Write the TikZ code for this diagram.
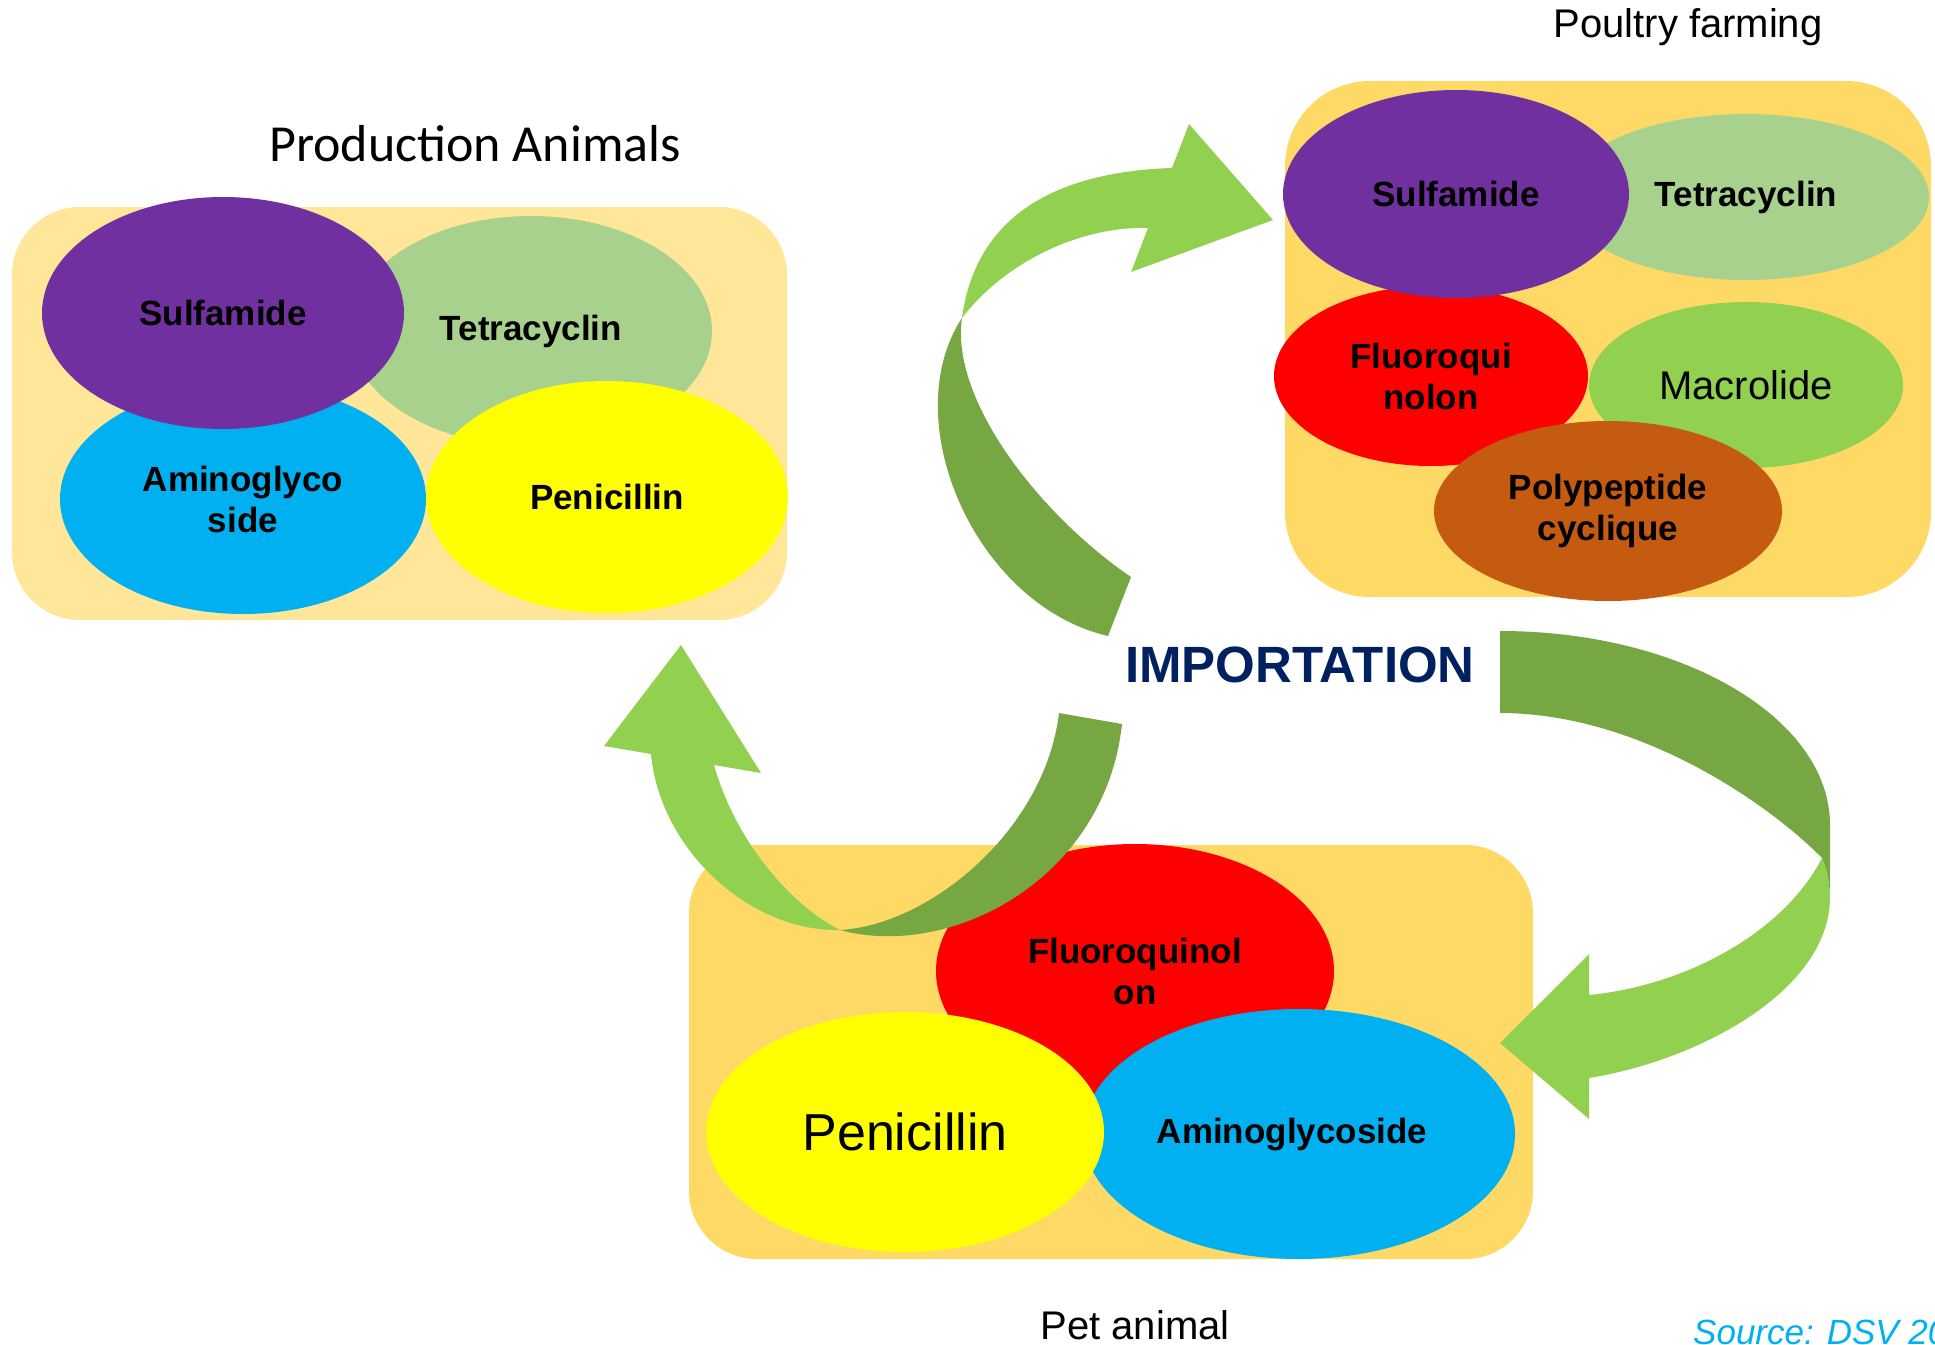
\documentclass[tikz,border=0pt]{standalone}
\usepackage{fontspec}
\setmainfont{Liberation Sans}
\newfontfamily\calib{Carlito}
\usetikzlibrary{shapes.geometric}
\definecolor{boxlight}{HTML}{FFE699}
\definecolor{boxgold}{HTML}{FFD966}
\definecolor{cpurple}{HTML}{7030A0}
\definecolor{cteal}{HTML}{A9D18E}
\definecolor{cblue}{HTML}{00B0F0}
\definecolor{cyel}{HTML}{FFFF00}
\definecolor{cred}{HTML}{FF0000}
\definecolor{cgreen}{HTML}{92D050}
\definecolor{corange}{HTML}{C55A11}
\definecolor{cdark}{HTML}{76A742}
\definecolor{cnavy}{HTML}{002060}
\tikzset{
  panel/.style={fill=#1, draw=none, inner sep=0pt},
  blob/.style={ellipse, fill=#1, draw=none, inner sep=0pt, align=center,
    font=\bfseries\fontsize{35}{41}\selectfont},
  plain/.style={font=\fontsize{40}{46}\selectfont, inner sep=0pt},
  lightarr/.style={fill=cgreen, draw=none},
  darkarr/.style={fill=cdark, draw=none}
}
\begin{document}
\begin{tikzpicture}[x=1pt,y=-1pt]
\useasboundingbox (0,0) rectangle (1935,1344);
\begin{scope}
\clip (0,0) rectangle (1935,1344);
% ---------- panels ----------
\node[panel=boxlight, rounded corners=68pt, minimum width=775pt, minimum height=413pt] (boxL) at (399.5,413.5) {};
\node[panel=boxgold, rounded corners=85pt, minimum width=646pt, minimum height=516pt] (boxR) at (1608,339) {};
\node[panel=boxgold, rounded corners=68pt, minimum width=844pt, minimum height=414pt] (boxB) at (1111,1052) {};
% ---------- titles ----------
\node[font=\calib\fontsize{52}{60}\selectfont, inner sep=0pt] (tL) at (475,144) {Production Animals};
\node[plain] (tR) at (1688,27) {Poultry farming};
\node[plain] (tB) at (1135,1325) {Pet animal};
% ---------- left panel ----------
\node[blob=cteal, minimum width=362pt, minimum height=230pt] (lTet) at (531,331) {Tetracyclin};
\node[blob=cblue, minimum width=366pt, minimum height=230pt] (lAmi) at (243,499) {Aminoglyco\\side};
\node[blob=cyel, minimum width=362pt, minimum height=232pt] (lPen) at (607,497) {Penicillin};
\node[blob=cpurple, minimum width=362pt, minimum height=232pt] (lSul) at (223,313) {Sulfamide};
% ---------- right panel ----------
\node[blob=cteal, minimum width=366pt, minimum height=166pt] (rTet) at (1746,197) {Tetracyclin};
\node[blob=cred, minimum width=314pt, minimum height=180pt] (rFlu) at (1431,376) {Fluoroqui\\nolon};
\node[blob=cgreen, minimum width=314pt, minimum height=166pt, font=\fontsize{40}{46}\selectfont] (rMac) at (1746,385) {Macrolide};
\node[blob=corange, minimum width=348pt, minimum height=180pt] (rPol) at (1608,511) {Polypeptide\\cyclique};
\node[blob=cpurple, minimum width=346pt, minimum height=208pt] (rSul) at (1456,194) {Sulfamide};
% ---------- bottom panel ----------
\node[blob=cred, minimum width=398pt, minimum height=254pt] (bFlu) at (1135,971) {Fluoroquinol\\on};
\node[blob=cblue, minimum width=432pt, minimum height=250pt] (bAmi) at (1299,1134) {};
\node[font=\bfseries\fontsize{35}{41}\selectfont, inner sep=0pt] (bAmiT) at (1292,1135) {Aminoglycoside};
\node[blob=cyel, minimum width=398pt, minimum height=240pt, font=\fontsize{52}{60}\selectfont] (bPen) at (905,1132) {Penicillin};
% ---------- IMPORTATION ----------
\node[font=\bfseries\fontsize{51}{58}\selectfont, text=cnavy, inner sep=0pt] (imp) at (1300,665) {IMPORTATION};
% ---------- arrow 1 (to poultry) ----------
\fill[darkarr] (1108,636) .. controls (975,605) and (895,420) .. (962,318)
  .. controls (950,400) and (1040,515) .. (1131,577) -- cycle;
\fill[lightarr] (962,318) .. controls (975,220) and (1050,172) .. (1172,168)
  -- (1189,124) -- (1273,220) -- (1131,272) -- (1148,228)
  .. controls (1080,226) and (1005,262) .. (962,318) -- cycle;
% ---------- arrow 2 (to pet) ----------
\fill[darkarr] (1500,631) .. controls (1682,631) and (1830,718) .. (1830,825)
  -- (1830,897) .. controls (1829,880) and (1826,868) .. (1822,858)
  .. controls (1770,805) and (1640,713) .. (1500,713) -- cycle;
\fill[lightarr] (1822,858) .. controls (1785,930) and (1690,985) .. (1589,995)
  -- (1589,954) -- (1500,1043) -- (1589,1119) -- (1589,1078)
  .. controls (1700,1060) and (1830,990) .. (1830,897)
  .. controls (1829,880) and (1826,868) .. (1822,858) -- cycle;
% ---------- arrow 3 (to production) ----------
\fill[lightarr] (840,930) .. controls (750,932) and (660,850) .. (651,754)
  -- (604,746) -- (681,645) -- (761,773) -- (714,765)
  .. controls (735,840) and (790,905) .. (840,930) -- cycle;
\fill[darkarr] (1122,724) .. controls (1105,880) and (950,960) .. (840,930)
  .. controls (930,925) and (1045,830) .. (1059,713) -- cycle;
% ---------- source ----------
\node[font=\itshape\fontsize{35}{40}\selectfont, text=cblue, anchor=base west, inner sep=0pt] (src) at (1693,1344) {Source: DSV 20};
\end{scope}
\end{tikzpicture}
\end{document}
